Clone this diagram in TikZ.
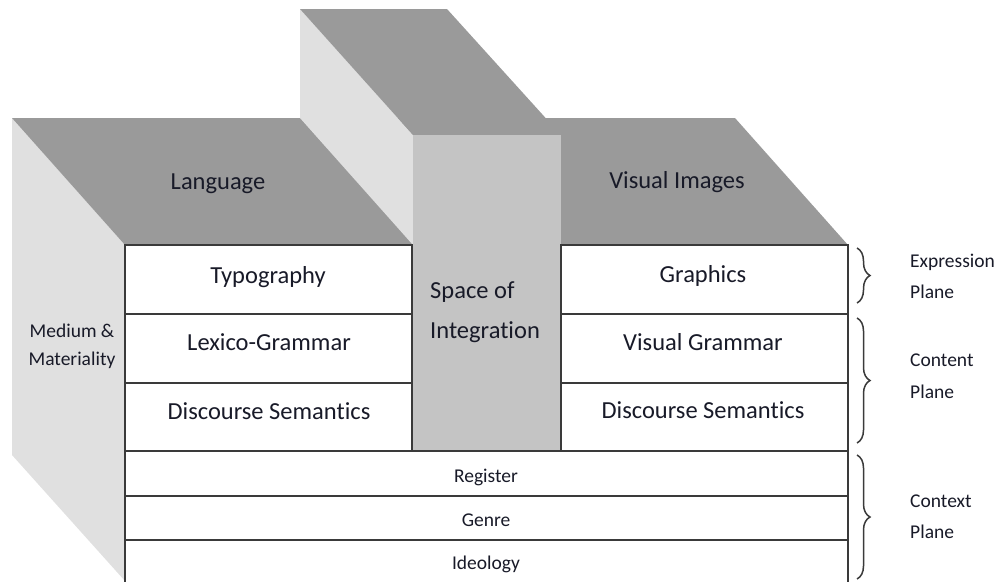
\documentclass[tikz,border=0pt]{standalone}
\usepackage{fontspec}
\setmainfont{Carlito}[Ligatures=NoCommon]
\usetikzlibrary{decorations.pathreplacing}
\definecolor{topc}{HTML}{9A9A9A}
\definecolor{sidec}{HTML}{E0E0E0}
\definecolor{midc}{HTML}{C4C4C4}
\definecolor{linec}{HTML}{3A3A3A}
\definecolor{txt}{HTML}{181A28}
\begin{document}
\begin{tikzpicture}[x=1pt,y=-1pt,
  cell/.style={draw=linec, line width=2pt, fill=white, anchor=north west,
    inner sep=0pt, outer sep=0pt},
  big/.style={text=txt, font=\fontsize{24.5}{28}\selectfont, anchor=base, inner sep=0pt},
  small/.style={text=txt, font=\fontsize{19.5}{23}\selectfont, anchor=base, inner sep=0pt},
  side/.style={text=txt, font=\fontsize{19.5}{23}\selectfont, anchor=base west, inner sep=0pt},
  brc/.style={draw=linec, line width=1.5pt, decorate,
    decoration={brace, amplitude=13pt}}]
\useasboundingbox (0,0) rectangle (1001,581);
\clip (0,0) rectangle (1001,581);
% side face of the left block
\fill[sidec] (12,118) -- (125,245) -- (125,581) -- (12,455) -- cycle;
% top faces
\fill[topc] (12,118) -- (420,118) -- (420,245) -- (125,245) -- cycle;
\fill[topc] (420,118) -- (735,118) -- (848,245) -- (420,245) -- cycle;
% middle block
\fill[sidec] (300,9) -- (413,135) -- (413,245) -- (300,118) -- cycle;
\fill[topc] (300,9) -- (447,9) -- (561,135) -- (413,135) -- cycle;
\fill[midc] (413,135) rectangle (561,451);
% cells
\node[cell, minimum width=287pt, minimum height=69pt] (typ) at (125,245) {};
\node[cell, minimum width=287pt, minimum height=69pt] (lex) at (125,314) {};
\node[cell, minimum width=287pt, minimum height=68pt] (dsl) at (125,383) {};
\node[cell, minimum width=287pt, minimum height=69pt] (gra) at (561,245) {};
\node[cell, minimum width=287pt, minimum height=69pt] (vgr) at (561,314) {};
\node[cell, minimum width=287pt, minimum height=68pt] (dsr) at (561,383) {};
\node[cell, minimum width=723pt, minimum height=45pt] (reg) at (125,451) {};
\node[cell, minimum width=723pt, minimum height=44pt] (gen) at (125,496) {};
\node[cell, minimum width=723pt, minimum height=60pt] (ide) at (125,540) {};
% texts
\node[big] (tlang) at (218,189) {Language};
\node[big] (tvis) at (677,188) {Visual Images};
\node[big] (ttyp) at (268,283) {Typography};
\node[big] (tlex) at (269,350) {Lexico-Grammar};
\node[big] (tdsl) at (269,419) {Discourse Semantics};
\node[big] (tgra) at (703,282) {Graphics};
\node[big] (tvgr) at (703,350) {Visual Grammar};
\node[big] (tdsr) at (703,418) {Discourse Semantics};
\node[big, anchor=base west] (tsp1) at (430,298) {Space of};
\node[big, anchor=base west] (tsp2) at (430,338) {Integration};
\node[small] (tmed1) at (72,337) {Medium \&};
\node[small] (tmed2) at (72,365) {Materiality};
\node[small] (treg) at (486,482) {Register};
\node[small] (tgen) at (486,526) {Genre};
\node[small] (tide) at (486,569) {Ideology};
\node[side] (texp1) at (910,267) {Expression};
\node[side] (texp2) at (910,298) {Plane};
\node[side] (tcon1) at (910,366) {Content};
\node[side] (tcon2) at (910,398) {Plane};
\node[side] (tctx1) at (910,507) {Context};
\node[side] (tctx2) at (910,538) {Plane};
% braces
\coordinate (e1) at (857,248); \coordinate (e2) at (857,303);
\coordinate (c1) at (857,318); \coordinate (c2) at (857,443);
\coordinate (x1) at (857,455); \coordinate (x2) at (857,579);
\draw[brc] (e1) -- (e2);
\draw[brc] (c1) -- (c2);
\draw[brc] (x1) -- (x2);
\end{tikzpicture}
\end{document}
